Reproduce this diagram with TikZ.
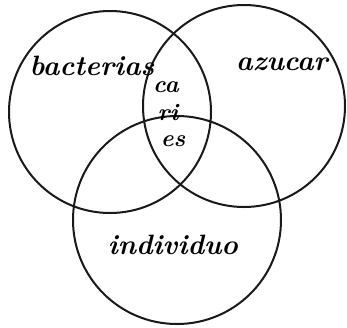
\documentclass[tikz,border=0pt]{standalone}
\begin{document}
\begin{tikzpicture}[x=1pt,y=-1pt,
  setcirc/.style={draw=black!90,line width=2pt},
  hand/.style={font=\fontsize{28}{32}\selectfont\bfseries\itshape,text=black,inner sep=0pt},
  handmid/.style={font=\fontsize{24}{28}\selectfont\bfseries\itshape,text=black,inner sep=0pt}]
\useasboundingbox (0,0) rectangle (347,327);
\draw[setcirc] (110,112) circle (101);
\draw[setcirc] (244,106) circle (101);
\draw[setcirc] (177,220) circle (104);
\node[hand] (bac) at (92,66) {bacterias};
\node[hand] (azu) at (282,64) {azucar};
\node[handmid] (ca) at (166,87) {ca};
\node[handmid] (ri) at (168,113) {ri};
\node[handmid] (es) at (173,141) {es};
\node[hand] (ind) at (173,245) {individuo};
\end{tikzpicture}
\end{document}
